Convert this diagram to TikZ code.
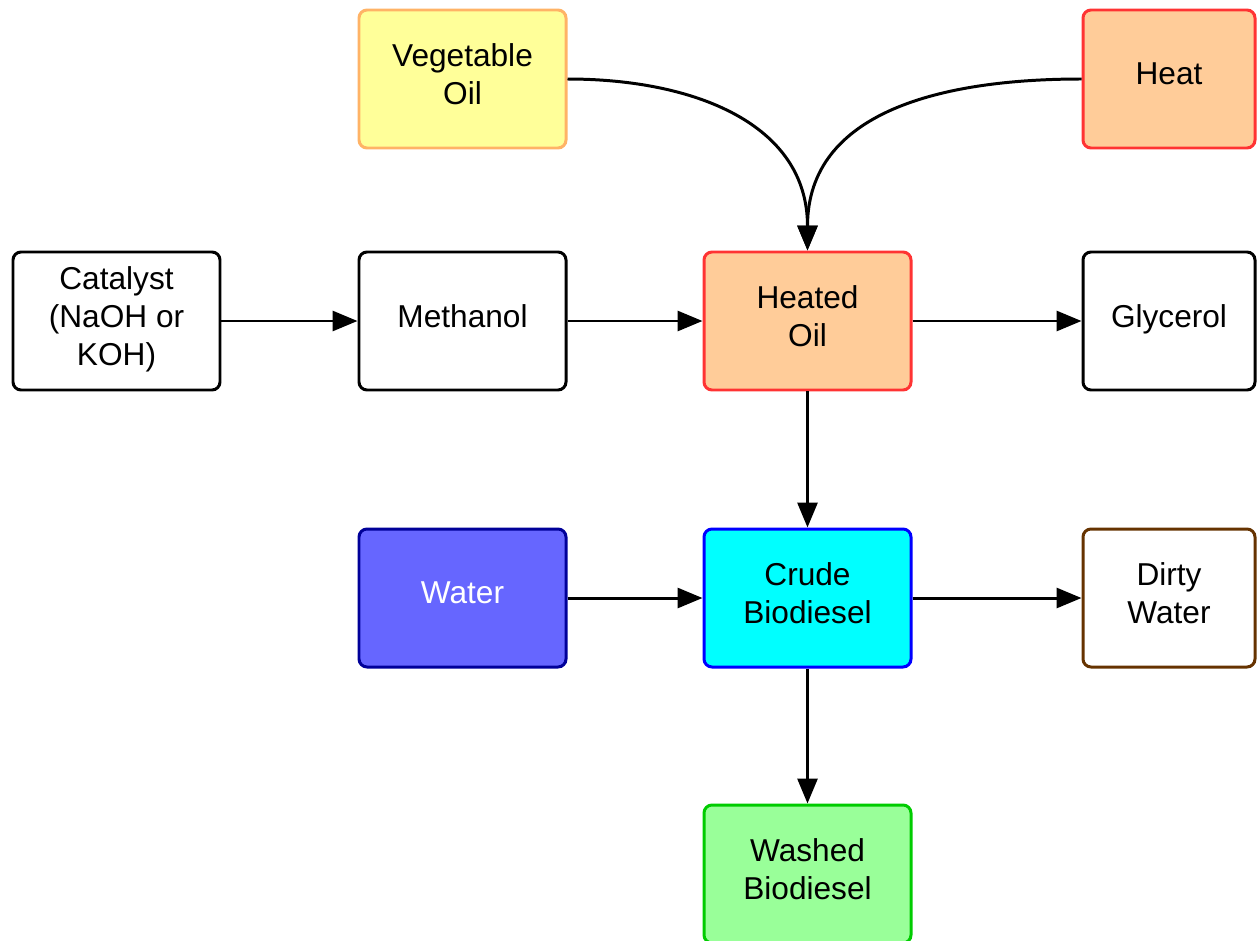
\documentclass[tikz,border=0pt]{standalone}
\usepackage{fontspec}
\setmainfont{Liberation Sans}
\usetikzlibrary{arrows.meta}
\definecolor{vegfill}{RGB}{255,255,153}
\definecolor{vegline}{RGB}{255,179,102}
\definecolor{heatfill}{RGB}{255,204,153}
\definecolor{heatline}{RGB}{255,51,51}
\definecolor{waterfill}{RGB}{102,102,255}
\definecolor{waterline}{RGB}{0,0,153}
\definecolor{crudefill}{RGB}{0,255,255}
\definecolor{crudeline}{RGB}{0,0,255}
\definecolor{washfill}{RGB}{153,255,153}
\definecolor{washline}{RGB}{0,204,0}
\definecolor{dirtyline}{RGB}{102,51,0}

\begin{document}
\begin{tikzpicture}[
    >={Triangle[length=0.5cm, width=0.4cm]},
    %% ── node styles ──────────────────────────────────────────────────────────
    proc/.style={
        rectangle, rounded corners=0.16cm, draw=black, fill=white,
        line width=1.7pt, minimum width=4.14cm, minimum height=2.76cm,
        align=center, font=\fontsize{18}{21.6}\selectfont, text=black,
        text depth=0.2cm
    },
    side/.style={proc, minimum width=3.44cm},
    %% ── edge styles ──────────────────────────────────────────────────────────
    flow/.style={->, draw=black, line width=1.7pt},
]
\useasboundingbox (0,0) rectangle (25.14,-18.82);

%% ── Top row: inputs ─────────────────────────────────────────────────────────
\node[proc, draw=vegline, fill=vegfill]   (veg)  at (9.25,-1.58)  {Vegetable\\Oil};
\node[side, draw=heatline, fill=heatfill] (heat) at (23.38,-1.58) {Heat};

%% ── Second row ──────────────────────────────────────────────────────────────
\node[proc]                                (cat)  at (2.33,-6.42)  {Catalyst\\(NaOH or\\KOH)};
\node[proc]                                (meth) at (9.25,-6.42)  {Methanol};
\node[proc, draw=heatline, fill=heatfill]  (hoil) at (16.15,-6.42) {Heated\\Oil};
\node[side]                                (gly)  at (23.38,-6.42) {Glycerol};

%% ── Third row ───────────────────────────────────────────────────────────────
\node[proc, draw=waterline, fill=waterfill, text=white] (water) at (9.25,-11.96)  {Water};
\node[proc, draw=crudeline, fill=crudefill]             (crude) at (16.15,-11.96) {Crude\\Biodiesel};
\node[side, draw=dirtyline]                             (dirty) at (23.38,-11.96) {Dirty\\Water};

%% ── Output ──────────────────────────────────────────────────────────────────
\node[proc, draw=washline, fill=washfill] (wash) at (16.15,-17.48) {Washed\\Biodiesel};

%% ─────────────────────────────────────────────────────────────────────────────
%% Connectors
%% ─────────────────────────────────────────────────────────────────────────────

%% oil and heat merge into heated oil
\draw[flow] (veg.east)  to[out=0,   in=90, looseness=1.1] (hoil.north);
\draw[flow] (heat.west) to[out=180, in=90, looseness=1.1] (hoil.north);

%% main line
\draw[flow] (cat)  -- (meth);
\draw[flow] (meth) -- (hoil);
\draw[flow] (hoil) -- (gly);
\draw[flow] (hoil) -- (crude);

%% washing
\draw[flow] (water) -- (crude);
\draw[flow] (crude) -- (dirty);
\draw[flow] (crude) -- (wash);

\end{tikzpicture}
\end{document}
